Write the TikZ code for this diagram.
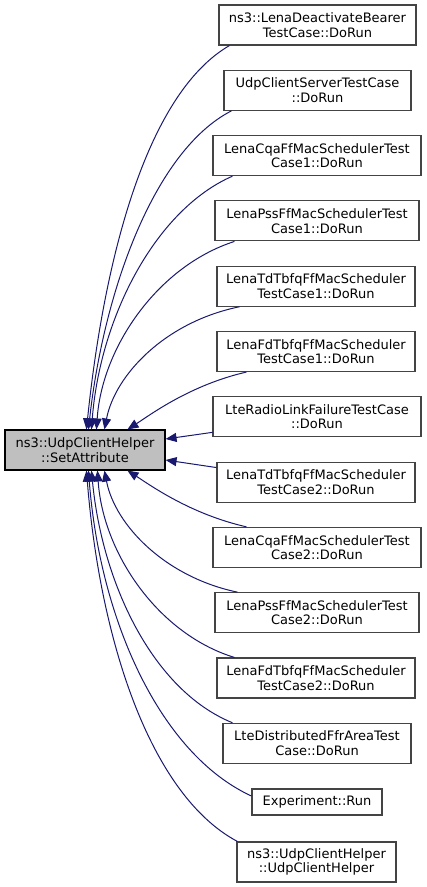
\documentclass[tikz,border=0pt]{standalone}
\usepackage{fontspec}
\setmainfont{DejaVu Sans}
\usetikzlibrary{arrows.meta,calc}
\definecolor{edgeblue}{HTML}{191970}
\definecolor{boxgray}{HTML}{444444}
\definecolor{fillgray}{HTML}{BFBFBF}
\begin{document}
\begin{tikzpicture}[x=1pt,y=-1pt,
  rbox/.style={draw=boxgray, line width=1.1pt, fill=white, inner sep=0pt, align=center,
    font=\fontsize{13}{14.5}\selectfont, minimum height=40pt},
  conn/.style={draw=edgeblue, line width=1pt, -{Triangle[length=11pt,width=9pt]}}]
\useasboundingbox (0,0) rectangle (427,887);

\node[rbox, draw=black, fill=fillgray, minimum width=160pt] (L) at (85,450) {ns3::UdpClientHelper\\::SetAttribute};

\node[rbox, minimum width=197pt] (b1) at (317.5,25) {ns3::LenaDeactivateBearer\\TestCase::DoRun};
\node[rbox, minimum width=187pt] (b2) at (317.5,90.3) {UdpClientServerTestCase\\::DoRun};
\node[rbox, minimum width=208pt] (b3) at (317,155.6) {LenaCqaFfMacSchedulerTest\\Case1::DoRun};
\node[rbox, minimum width=204pt] (b4) at (317,220.9) {LenaPssFfMacSchedulerTest\\Case1::DoRun};
\node[rbox, minimum width=198pt] (b5) at (316,286.2) {LenaTdTbfqFfMacScheduler\\TestCase1::DoRun};
\node[rbox, minimum width=198pt] (b6) at (316,351.5) {LenaFdTbfqFfMacScheduler\\TestCase1::DoRun};
\node[rbox, minimum width=208pt] (b7) at (317,416.8) {LteRadioLinkFailureTestCase\\::DoRun};
\node[rbox, minimum width=198pt] (b8) at (316,482.1) {LenaTdTbfqFfMacScheduler\\TestCase2::DoRun};
\node[rbox, minimum width=208pt] (b9) at (317,547.4) {LenaCqaFfMacSchedulerTest\\Case2::DoRun};
\node[rbox, minimum width=204pt] (b10) at (317,612.7) {LenaPssFfMacSchedulerTest\\Case2::DoRun};
\node[rbox, minimum width=198pt] (b11) at (316,678) {LenaFdTbfqFfMacScheduler\\TestCase2::DoRun};
\node[rbox, minimum width=188pt] (b12) at (317,743.3) {LteDistributedFfrAreaTest\\Case::DoRun};
\node[rbox, minimum width=130pt, minimum height=26pt] (b13) at (317,802) {Experiment::Run};
\node[rbox, minimum width=159pt] (b14) at (316.5,862) {ns3::UdpClientHelper\\::UdpClientHelper};

% upper group
\draw[conn] ($(b1.south west)+(11,0)$) .. controls (146,94) and (104,260) .. ($(L.north west)+(82,0)$);
\draw[conn] ($(b2.south west)+(8,0)$) .. controls (155,150) and (104,289) .. ($(L.north west)+(84,0)$);
\draw[conn] ($(b3.south west)+(20,0)$) .. controls (155,210) and (100,318) .. ($(L.north west)+(87,0)$);
\draw[conn] ($(b4.south west)+(20,0)$) .. controls (158,266) and (102,347) .. ($(L.north west)+(92,0)$);
\draw[conn] ($(b5.south west)+(23,0)$) .. controls (165,322) and (115,375) .. ($(L.north west)+(100,0)$);
\draw[conn] ($(b6.south west)+(30,0)$) .. controls (190,385) and (150,415) .. ($(L.north west)+(123,0)$);
% side
\draw[conn] ($(b7.south west)+(0,-5)$) -- ($(L.east)+(0,-11)$);
\draw[conn] ($(b8.north west)+(0,6)$) -- ($(L.east)+(0,10)$);
% lower group
\draw[conn] ($(b9.north west)+(34,0)$) .. controls (190,514) and (150,485) .. ($(L.south west)+(123,0)$);
\draw[conn] ($(b10.north west)+(23,0)$) .. controls (165,577) and (115,525) .. ($(L.south west)+(100,0)$);
\draw[conn] ($(b11.north west)+(18,0)$) .. controls (158,634) and (103,553) .. ($(L.south west)+(93,0)$);
\draw[conn] ($(b12.north west)+(10,0)$) .. controls (152,690) and (102,582) .. ($(L.south west)+(87,0)$);
\draw[conn] ($(b13.west)+(0,-6)$) .. controls (160,754) and (100,620) .. ($(L.south west)+(84,0)$);
\draw[conn] ($(b14.north west)+(1,0)$) .. controls (150,795) and (100,640) .. ($(L.south west)+(82,0)$);
\end{tikzpicture}
\end{document}
